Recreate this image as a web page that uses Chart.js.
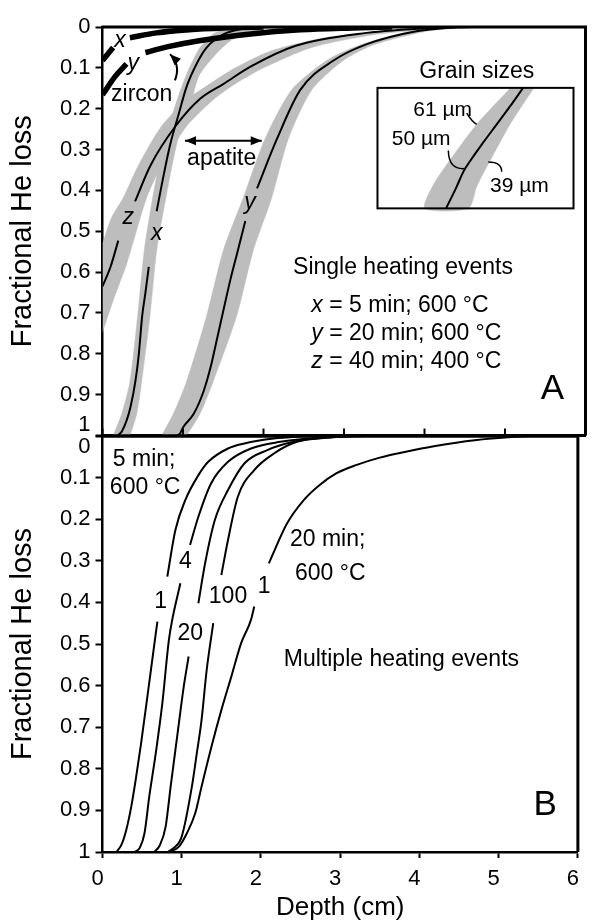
<!DOCTYPE html>
<html><head><meta charset="utf-8">
<script src="https://cdn.jsdelivr.net/npm/chart.js@4.4.1/dist/chart.umd.min.js"></script>
<style>
html,body{margin:0;padding:0;background:#fff;}
#wrap{position:relative;width:592px;height:921px;background:#fff;}
canvas{position:absolute;left:0;top:0;}
</style></head><body>
<div id="wrap"><canvas id="cA" width="592" height="921"></canvas><canvas id="cB" width="592" height="921"></canvas></div>
<script>
// ---------- tick values / labels ----------
const depthTicks = [0, 1, 2, 3, 4, 5, 6];
const depthTickLabels = ['0', '1', '2', '3', '4', '5', '6'];
const lossTicks = [0, 0.1, 0.2, 0.3, 0.4, 0.5, 0.6, 0.7, 0.8, 0.9, 1];
const lossTickLabels = ['0', '0.1', '0.2', '0.3', '0.4', '0.5', '0.6', '0.7', '0.8', '0.9', '1'];

// ---------- Panel A: single heating events (depth cm, fractional He loss) ----------
const zirconXDepth = [0, 0.132, null, 0.34, 0.67, 1.08, 1.5, 2.0];
const zirconXLoss  = [0.082, 0.05, null, 0.0264, 0.0144, 0.0065, 0.0024, 0];
const zirconYDepth = [0, 0.153, 0.298, null, 0.533, 0.80, 1.2, 1.84, 2.46, 3.1, 3.6];
const zirconYLoss  = [0.166, 0.122, 0.0905, null, 0.0624, 0.0487, 0.0336, 0.017, 0.007, 0.0024, 0];

const apatiteXDepth = [0.19, 0.24, 0.3, 0.347, 0.409, 0.45, 0.493, 0.533, 0.575, null, 0.673, 0.735, 0.838, 0.94, 1.045, 1.17, 1.295, 1.5, 1.745, 2.0];
const apatiteXLoss  = [1.0, 0.99, 0.963, 0.931, 0.867, 0.803, 0.707, 0.651, 0.587, null, 0.451, 0.387, 0.29, 0.218, 0.146, 0.09, 0.05, 0.018, 0.004, 0];
const apatiteYDepth = [0.92, 0.96, 1.004, 1.133, 1.257, 1.34, 1.423, 1.505, 1.588, 1.671, 1.774, null, 1.92, 2.167, 2.457, 2.87, 3.284, 3.9, 4.4];
const apatiteYLoss  = [1.0, 0.996, 0.979, 0.947, 0.891, 0.835, 0.763, 0.691, 0.619, 0.555, 0.475, null, 0.395, 0.274, 0.154, 0.082, 0.042, 0.0103, 0];
const apatiteZDepth = [0, 0.1, 0.196, null, 0.404, 0.596, 0.906, 1.216, 1.505, 1.85, 2.4, 3.28, 4.11, 4.6];
const apatiteZLoss  = [0.635, 0.587, 0.523, null, 0.427, 0.339, 0.243, 0.175, 0.139, 0.096, 0.046, 0.0144, 0.0024, 0];

// grain-size range bands (edges of the grey bands)
const bandXLeftDepth  = [0.134, 0.239, 0.342, 0.437, 0.519, 0.652, 0.776, 0.901, 1.046, 1.211, 1.398, 1.708];
const bandXLeftLoss   = [1.0, 0.947, 0.867, 0.707, 0.547, 0.387, 0.274, 0.194, 0.115, 0.0504, 0.0144, 0];
const bandXRightDepth = [0.342, 0.425, 0.487, 0.59, 0.673, 0.817, 0.938, 1.087, 1.211, 1.584, 1.957, 2.329];
const bandXRightLoss  = [1.0, 0.947, 0.867, 0.707, 0.547, 0.387, 0.274, 0.194, 0.115, 0.0343, 0.0072, 0];
const bandYLeftDepth  = [0.735, 0.88, 1.046, 1.294, 1.501, 1.749, 2.019, 2.35, 2.785, 3.22, 3.82, 4.19];
const bandYLeftLoss   = [1.0, 0.947, 0.867, 0.707, 0.547, 0.418, 0.274, 0.154, 0.082, 0.0425, 0.0103, 0];
const bandYRightDepth = [1.046, 1.211, 1.376, 1.667, 1.873, 2.102, 2.308, 2.599, 2.991, 3.385, 4.027, 4.565];
const bandYRightLoss  = [1.0, 0.947, 0.867, 0.707, 0.547, 0.418, 0.274, 0.154, 0.082, 0.0425, 0.0103, 0];
const bandZUpperDepth = [0, 0.114, 0.258, 0.445, 0.735, 1.046, 1.335, 1.65, 2.1, 2.8, 3.6, 4.3];
const bandZUpperLoss  = [0.531, 0.466, 0.418, 0.339, 0.2425, 0.178, 0.139, 0.1, 0.058, 0.025, 0.008, 0];
const bandZLowerDepth = [0, 0.15, 0.3, 0.548, 0.735, 1.046, 1.376, 1.65, 2.0, 2.6, 3.4, 4.2, 4.8];
const bandZLowerLoss  = [0.747, 0.66, 0.58, 0.418, 0.339, 0.2425, 0.178, 0.139, 0.1, 0.05, 0.018, 0.004, 0];

// inset "Grain sizes"
const insetLineDepth = [4.268, 4.4, 4.482, 4.586, 4.73, 4.897, 5.062, 5.225];
const insetLineLoss  = [0.444, 0.3906, 0.3546, 0.3225, 0.2826, 0.2384, 0.1945, 0.149];
const insetLeftDepth  = [5.07, 4.648, 4.358, 4.109, 4.006];
const insetLeftLoss   = [0.149, 0.2384, 0.3145, 0.3866, 0.444];
const insetRightDepth = [5.36, 5.062, 4.805, 4.648, 4.544];
const insetRightLoss  = [0.149, 0.2384, 0.3306, 0.3906, 0.444];
const insetBoxDepth = [3.416, 5.851];
const insetBoxLoss  = [0.149, 0.444];

// ---------- Panel B: multiple heating events ----------
const b1Depth = [0.176, 0.238, 0.3, 0.363, 0.425, 0.487, 0.549, 0.611, 0.673, 0.693, null, 0.818, 0.92, 1.045, 1.211, 1.335, 1.584, 1.79, 2.16, 2.6];
const b1Loss  = [1.0, 0.983, 0.947, 0.891, 0.819, 0.739, 0.651, 0.563, 0.474, 0.446, null, 0.338, 0.226, 0.154, 0.094, 0.062, 0.030, 0.018, 0.006, 0];
const b4Depth = [0.41, 0.47, 0.53, 0.59, 0.672, 0.755, 0.838, 0.88, 0.983, null, 1.105, 1.21, 1.37, 1.584, 1.875, 2.245, 2.7, 3.1];
const b4Loss  = [1.0, 0.99, 0.955, 0.867, 0.763, 0.643, 0.49, 0.442, 0.354, null, 0.262, 0.194, 0.114, 0.062, 0.030, 0.014, 0.004, 0];
const b20Depth = [0.653, 0.72, 0.797, 0.86, 0.942, 1.025, 1.087, null, 1.21, 1.295, 1.418, 1.584, 1.79, 2.08, 2.41, 2.9, 3.2];
const b20Loss  = [1.0, 0.985, 0.939, 0.843, 0.723, 0.603, 0.53, null, 0.402, 0.306, 0.202, 0.13, 0.066, 0.034, 0.014, 0.003, 0];
const b100Depth = [0.82, 0.9, 1.0, 1.128, 1.19, 1.25, 1.315, 1.398, null, 1.5, 1.584, 1.708, 1.915, 2.164, 2.453, 2.9, 3.3];
const b100Loss  = [1.0, 0.99, 0.963, 0.843, 0.763, 0.683, 0.5625, 0.45, null, 0.334, 0.25, 0.146, 0.082, 0.042, 0.014, 0.003, 0];
const b20minDepth = [0.84, 0.965, 1.065, 1.17, 1.25, 1.375, 1.5, 1.625, 1.75, 1.874, 1.915, null, 2.1, 2.33, 2.54, 2.745, 2.95, 3.2, 3.5, 3.8, 4.2, 4.7, 5.2, 5.4];
const b20minLoss  = [1.0, 0.987, 0.955, 0.907, 0.843, 0.747, 0.659, 0.579, 0.498, 0.442, 0.41, null, 0.306, 0.21, 0.154, 0.117, 0.09, 0.07, 0.052, 0.039, 0.024, 0.01, 0.002, 0];

// ---------- annotations (data coordinates: [depth, loss]) ----------
const notesA = [
  {text: [['zircon', 0]], at: [0.487, 0.166]},
  {text: [['x', 1]], at: [0.217, 0.034]},
  {text: [['y', 1]], at: [0.383, 0.0905]},
  {text: [['apatite', 0]], at: [1.48, 0.3225]},
  {text: [['z', 1]], at: [0.32, 0.4665]},
  {text: [['x', 1]], at: [0.673, 0.5066]},
  {text: [['y', 1]], at: [1.832, 0.43]},
  {text: [['Grain sizes', 0]], at: [4.65, 0.11]},
  {text: [['61 µm', 0]], at: [3.86, 0.2025], align: 'left', size: 21},
  {text: [['50 µm', 0]], at: [3.593, 0.2745], align: 'left', size: 21},
  {text: [['39 µm', 0]], at: [4.814, 0.3906], align: 'left', size: 21},
  {text: [['Single heating events', 0]], at: [3.733, 0.59]},
  {text: [['x', 1], [' = 5 min; 600 °C', 0]], at: [2.594, 0.683], align: 'left'},
  {text: [['y', 1], [' = 20 min; 600 °C', 0]], at: [2.594, 0.751], align: 'left'},
  {text: [['z', 1], [' = 40 min; 400 °C', 0]], at: [2.594, 0.819], align: 'left'},
  {text: [['A', 0]], at: [5.588, 0.888], size: 35}
];
const notesB = [
  {text: [['5 min;', 0]], at: [0.13, 0.058], align: 'left'},
  {text: [['600 °C', 0]], at: [0.093, 0.125], align: 'left'},
  {text: [['1', 0]], at: [0.735, 0.398]},
  {text: [['4', 0]], at: [1.045, 0.302]},
  {text: [['20', 0]], at: [1.108, 0.474]},
  {text: [['100', 0]], at: [1.584, 0.386]},
  {text: [['1', 0]], at: [2.04, 0.362]},
  {text: [['20 min;', 0]], at: [2.366, 0.25], align: 'left'},
  {text: [['600 °C', 0]], at: [2.43, 0.33], align: 'left'},
  {text: [['Multiple heating events', 0]], at: [2.288, 0.538], align: 'left'},
  {text: [['B', 0]], at: [5.588, 0.888], size: 35}
];
const arrowsA = [
  {from: [1.025, 0.2785], to: [1.978, 0.2785], both: true},
  {from: [0.9, 0.1304], ctrl: [0.975, 0.0936], to: [0.8385, 0.0665]}
];
const leadersA = [
  {from: [4.524, 0.2106], ctrl: [4.586, 0.2305], to: [4.648, 0.2385]},
  {from: [4.296, 0.3025], ctrl: [4.3, 0.35], to: [4.503, 0.3465]},
  {from: [4.793, 0.3306], ctrl: [4.96, 0.331], to: [4.959, 0.3546]}
];

// ---------- helpers ----------
const FONT = '"Liberation Sans", Arial, Helvetica, sans-serif';
const GREY = '#bdbdbd';
Chart.defaults.font.family = FONT;
Chart.defaults.color = '#000';

function pts(ds, fs) { return ds.map((d, i) => ({x: d, y: fs[i]})); }
function poly(ad, af, bd, bf) { return pts(ad, af).concat(pts(bd, bf).reverse()); }
function lineDs(ds, fs, w) {
  return {data: pts(ds, fs), borderColor: '#000', borderWidth: w, pointRadius: 0, fill: false,
          cubicInterpolationMode: 'monotone', spanGaps: false, order: 1, borderCapStyle: 'butt'};
}
function bandDs(data) {
  return {data, borderColor: GREY, borderWidth: 0.5, backgroundColor: GREY, fill: 'shape',
          pointRadius: 0, tension: 0.25, order: 3};
}
function tickLabel(v) { const i = lossTicks.findIndex(t => Math.abs(t - v) < 1e-9); return i >= 0 ? lossTickLabels[i] : ''; }

function yAxis(panel) {
  return {
    type: 'linear', reverse: true, min: 0, max: 1, position: 'left',
    afterFit: s => { s.width = 102.5; },
    afterBuildTicks: s => { s.ticks = lossTicks.map(v => ({value: v})); },
    ticks: {
      font: {family: FONT, size: 22, lineHeight: 1.0}, color: '#000', padding: 5, autoSkip: false,
      callback: v => {
        const l = tickLabel(v);
        if (panel === 'A' && v === 1) return [l, ''];
        if (panel === 'B' && v === 0) return ['', l];
        return l;
      }
    },
    grid: {drawOnChartArea: false, drawTicks: true, tickLength: 7, tickWidth: 2, tickColor: '#000'},
    border: {display: true, color: '#000', width: 2.5},
    title: {display: true, text: 'Fractional He loss', color: '#000',
            font: {family: FONT, size: 29}, padding: {top: 5.6, bottom: 0}}
  };
}

function drawRuns(ctx, runs, x, y, align, size) {
  let total = 0;
  const parts = runs.map(([t, it]) => {
    ctx.font = (it ? 'italic ' : '') + size + 'px ' + FONT;
    const w = ctx.measureText(t).width; total += w; return {t, it, w};
  });
  let sx = align === 'left' ? x : align === 'right' ? x - total : x - total / 2;
  ctx.textAlign = 'left'; ctx.textBaseline = 'middle'; ctx.fillStyle = '#000';
  for (const p of parts) { ctx.font = (p.it ? 'italic ' : '') + size + 'px ' + FONT; ctx.fillText(p.t, sx, y); sx += p.w; }
}
function head(ctx, x, y, ang) {
  const L = 11, H = 4.5;
  ctx.beginPath();
  ctx.moveTo(x, y);
  ctx.lineTo(x - L * Math.cos(ang) + H * Math.sin(ang), y - L * Math.sin(ang) - H * Math.cos(ang));
  ctx.lineTo(x - L * Math.cos(ang) - H * Math.sin(ang), y - L * Math.sin(ang) + H * Math.cos(ang));
  ctx.closePath(); ctx.fill();
}

function panelPlugin(panel) {
  return {
    id: 'panel' + panel,
    afterDraw(chart) {
      const ctx = chart.ctx, sx = chart.scales.x, sy = chart.scales.y, a = chart.chartArea;
      const P = p => [sx.getPixelForValue(p[0]), sy.getPixelForValue(p[1])];
      ctx.save();
      ctx.strokeStyle = '#000'; ctx.fillStyle = '#000'; ctx.lineCap = 'butt';
      if (panel === 'A') {
        ctx.lineWidth = 2;
        depthTicks.forEach(v => { const x = sx.getPixelForValue(v); ctx.beginPath(); ctx.moveTo(x, a.bottom); ctx.lineTo(x, a.bottom - 7); ctx.stroke(); });
        ctx.lineWidth = 3;
        ctx.beginPath(); ctx.moveTo(a.left - 1, a.top); ctx.lineTo(a.right, a.top); ctx.lineTo(a.right, a.bottom); ctx.stroke();
        const b0 = P([insetBoxDepth[0], insetBoxLoss[0]]), b1 = P([insetBoxDepth[1], insetBoxLoss[1]]);
        ctx.lineWidth = 2; ctx.strokeRect(b0[0], b0[1], b1[0] - b0[0], b1[1] - b0[1]);
        ctx.lineWidth = 2;
        arrowsA.forEach(ar => {
          const f = P(ar.from), t = P(ar.to);
          ctx.beginPath(); ctx.moveTo(f[0], f[1]);
          let ang;
          if (ar.ctrl) { const c = P(ar.ctrl); ctx.quadraticCurveTo(c[0], c[1], t[0], t[1]); ang = Math.atan2(t[1] - c[1], t[0] - c[0]); }
          else { ctx.lineTo(t[0], t[1]); ang = Math.atan2(t[1] - f[1], t[0] - f[0]); }
          ctx.stroke();
          head(ctx, t[0], t[1], ang);
          if (ar.both) head(ctx, f[0], f[1], ang + Math.PI);
        });
        ctx.lineWidth = 1.5;
        leadersA.forEach(l => { const f = P(l.from), c = P(l.ctrl), t = P(l.to); ctx.beginPath(); ctx.moveTo(f[0], f[1]); ctx.quadraticCurveTo(c[0], c[1], t[0], t[1]); ctx.stroke(); });
      } else {
        ctx.lineWidth = 3.5;
        ctx.beginPath(); ctx.moveTo(a.left - 1, a.top); ctx.lineTo(a.right, a.top); ctx.stroke();
        ctx.lineWidth = 3;
        ctx.beginPath(); ctx.moveTo(a.right, a.top); ctx.lineTo(a.right, a.bottom); ctx.stroke();
      }
      const notes = panel === 'A' ? notesA : notesB;
      notes.forEach(n => { const p = P(n.at); drawRuns(ctx, n.text, p[0], p[1], n.align || 'center', n.size || 23); });
      ctx.restore();
    }
  };
}

const common = {responsive: false, animation: false, events: [],
  plugins: {legend: {display: false}, tooltip: {enabled: false}}};

// ---------- Chart A ----------
new Chart(document.getElementById('cA'), {
  type: 'line',
  data: {datasets: [
    bandDs(poly(bandZUpperDepth, bandZUpperLoss, bandZLowerDepth, bandZLowerLoss)),
    bandDs(poly(bandXLeftDepth, bandXLeftLoss, bandXRightDepth, bandXRightLoss)),
    bandDs(poly(bandYLeftDepth, bandYLeftLoss, bandYRightDepth, bandYRightLoss)),
    bandDs(poly(insetLeftDepth, insetLeftLoss, insetRightDepth, insetRightLoss)),
    lineDs(apatiteZDepth, apatiteZLoss, 2),
    lineDs(apatiteXDepth, apatiteXLoss, 2),
    lineDs(apatiteYDepth, apatiteYLoss, 2),
    lineDs(insetLineDepth, insetLineLoss, 2),
    lineDs(zirconXDepth, zirconXLoss, 5.5),
    lineDs(zirconYDepth, zirconYLoss, 5.5)
  ]},
  options: Object.assign({}, common, {
    layout: {padding: {top: 19, left: 0, right: 6.5, bottom: 485.5}},
    scales: {
      x: {type: 'linear', min: 0, max: 6, position: 'bottom',
          afterFit: s => { s.height = 0; },
          afterBuildTicks: s => { s.ticks = depthTicks.map(v => ({value: v})); },
          ticks: {display: false}, grid: {drawOnChartArea: false, drawTicks: false},
          border: {display: true, color: '#000', width: 3}},
      y: yAxis('A')
    }
  }),
  plugins: [panelPlugin('A')]
});

// ---------- Chart B ----------
new Chart(document.getElementById('cB'), {
  type: 'line',
  data: {datasets: [
    lineDs(b1Depth, b1Loss, 2),
    lineDs(b4Depth, b4Loss, 2),
    lineDs(b20Depth, b20Loss, 2),
    lineDs(b100Depth, b100Loss, 2),
    lineDs(b20minDepth, b20minLoss, 2)
  ]},
  options: Object.assign({}, common, {
    layout: {padding: {top: 436, left: 0, right: 6.5, bottom: 0}},
    scales: {
      x: {type: 'linear', min: 0, max: 6, position: 'bottom',
          afterFit: s => { s.height = 69; },
          afterBuildTicks: s => { s.ticks = depthTicks.map(v => ({value: v})); },
          ticks: {font: {family: FONT, size: 22}, color: '#000', padding: 8, labelOffset: -5, maxRotation: 0, autoSkip: false,
                  callback: v => depthTickLabels[depthTicks.indexOf(v)]},
          grid: {drawOnChartArea: false, drawTicks: true, tickLength: 6, tickWidth: 2, tickColor: '#000'},
          border: {display: true, color: '#000', width: 2.5},
          title: {display: true, text: 'Depth (cm)', color: '#000', font: {family: FONT, size: 26, lineHeight: 1.0}, padding: {top: 0, bottom: 0}}},
      y: yAxis('B')
    }
  }),
  plugins: [panelPlugin('B')]
});
</script>
</body></html>
